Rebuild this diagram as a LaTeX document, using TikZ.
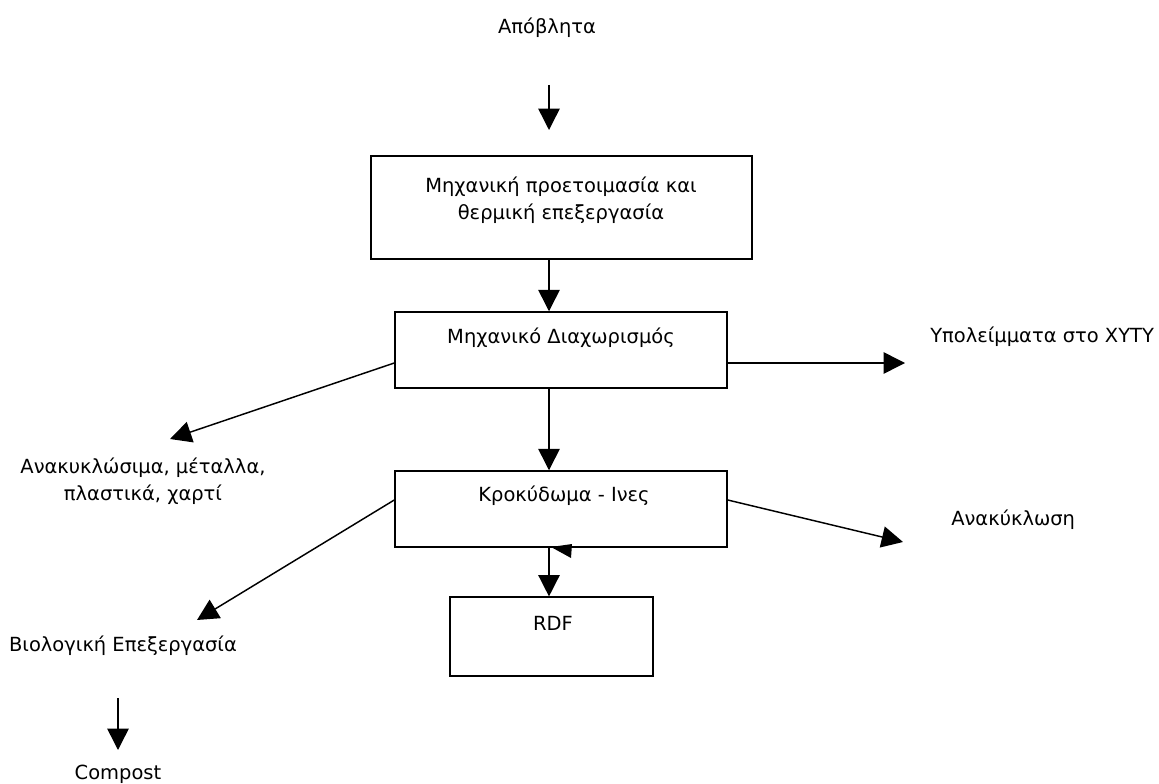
\documentclass[tikz,border=0pt]{standalone}
\usepackage{fontspec}
\setmainfont{DejaVu Sans}
\usepackage{tikz}
\usetikzlibrary{arrows.meta}

\tikzset{
  box/.style={draw,line width=1.1pt,inner sep=0pt},
  lbl/.style={inner sep=0.75pt,align=center,font=\fontsize{14.6pt}{20pt}\selectfont},
  arr/.style={line width=1.1pt,-{Triangle[length=16pt,width=16pt]}}
}

\begin{document}
\begin{tikzpicture}[x=0.75pt,y=0.75pt,yscale=-1,xscale=1]
\useasboundingbox (0,0) rectangle (1159,784);

%Shape: Boxes
\node[box,minimum width=286pt,minimum height=77pt] (b1) at (561.5,207.5) {};
\node[box,minimum width=249pt,minimum height=57pt] (b2) at (561,350) {};
\node[box,minimum width=249pt,minimum height=57pt] (b3) at (561,509) {};
\node[box,minimum width=152pt,minimum height=59pt] (b4) at (551.5,636.5) {};

%Free ends
\coordinate (t0) at (549,85);
\coordinate (t1) at (549,130);
\coordinate (r1) at (905,363);
\coordinate (l1) at (170,439);
\coordinate (r2) at (903,542);
\coordinate (l2) at (197,620);
\coordinate (c0) at (118,698);
\coordinate (c1) at (118,750);

%Straight Lines
\draw[arr] (t0) -- (t1);
\draw[arr] (b1.south -| t0) -- (b2.north -| t0);
\draw[arr] (b2.south -| t0) -- (b3.north -| t0);
\draw[arr] (b3.south -| t0) -- (b4.north -| t0);
\draw[arr] (b2.east |- r1) -- (r1);
\draw[arr] (b2.west |- r1) -- (l1);
\draw[arr] ([yshift=-6.75pt]b3.east) -- (r2);
\draw[arr] ([yshift=-6.75pt]b3.west) -- (l2);
\draw[arr] (c0) -- (c1);
%stray tip
\fill (551,547) -- (572,544) -- (571,558) -- cycle;

% Text Node
\node[lbl] (waste) at (547,28) {Απόβλητα};
\node[lbl] (t_b1) at (561,200) {Μηχανική προετοιμασία και\\θερμική επεξεργασία};
\node[lbl] (t_b2) at (561,338) {Μηχανικό Διαχωρισμός};
\node[lbl] (t_b3) at (564,496) {Κροκύδωμα - Ινες};
\node[lbl] (t_b4) at (553,623) {RDF};
\node[lbl,anchor=west] (xyty) at (929,337) {Υπολείμματα στο ΧΥΤΥ};
\node[lbl,anchor=west] (recyc) at (950,520) {Ανακύκλωση};
\node[lbl] (metals) at (143,481) {Ανακυκλώσιμα, μέταλλα,\\πλαστικά, χαρτί};
\node[lbl] (bio) at (123,646) {Βιολογική Επεξεργασία};
\node[lbl] (compost) at (118,774) {Compost};

\end{tikzpicture}
\end{document}
